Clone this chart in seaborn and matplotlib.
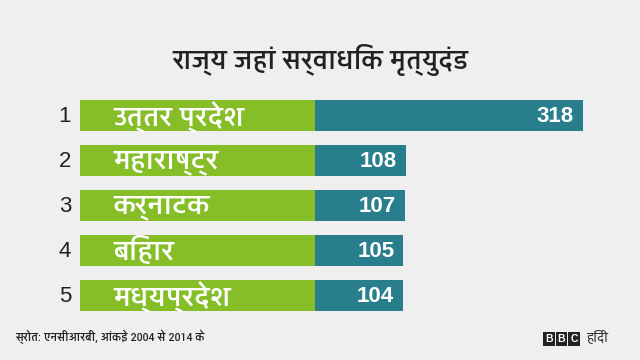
import matplotlib
matplotlib.use("Agg")
import matplotlib.pyplot as plt
import seaborn as sns
import pandas as pd
from matplotlib import font_manager
from matplotlib.patches import Rectangle

# ---- data ----
ranks = ["1", "2", "3", "4", "5"]
states = ["उत्तर प्रदेश", "महाराष्ट्र", "कर्नाटक", "बिहार", "मध्यप्रदेश"]
death_sentences = [318, 108, 107, 105, 104]
title_text = "राज्य जहां सर्वाधिक मृत्युदंड"
source_text = "स्रोत: एनसीआरबी, आंकड़े 2004 से 2014 के"
brand_text = "हिंदी"

# ---- pick a Devanagari font ----
names = {fe.name for fe in font_manager.fontManager.ttflist}
deva_family = None
for cand in ["Yantramanav", "Noto Sans Devanagari", "Hind", "Mukta",
             "Poppins", "Akshar"]:
    if cand in names:
        deva_family = cand
        break
fams = ([deva_family] if deva_family else []) + ["DejaVu Sans"]

sns.set_theme(style="white")
plt.rcParams["font.family"] = fams

BG = "#efefef"
GREEN = "#86be28"
TEAL = "#287e8c"

df = pd.DataFrame({"state": states, "value": death_sentences})

fig = plt.figure(figsize=(6.4, 3.6), dpi=100, facecolor=BG)
ax = fig.add_axes([80 / 640, 42 / 360, 560 / 640, 225 / 360])
ax.set_facecolor(BG)

k = 268 / 318.0           # pixels per unit
green_w = 235 / k          # label box width in data units
ax.set_xlim(-green_w, 560 / k - green_w)

sns.barplot(data=df, y="state", x="value", orient="h", color=TEAL,
            saturation=1, width=0.69, ax=ax, edgecolor="none")
ax.set_ylim(4.5, -0.5)

bar_h = 0.69
for i, (name, v) in enumerate(zip(states, death_sentences)):
    ax.add_patch(Rectangle((-green_w, i - bar_h / 2), green_w, bar_h,
                           facecolor=GREEN, edgecolor="none", zorder=3))
    ax.text(-green_w + 33 / k, i + 0.03, name, color="white", fontsize=21,
            va="center", ha="left", family=fams, fontweight="medium",
            zorder=4)
    ax.text(v - 9 / k, i + 0.03, str(v), color="white", fontsize=16,
            fontweight="bold", va="center", ha="right",
            family="Liberation Sans", zorder=4)
    ax.text(-green_w - 15 / k, i + 0.03, ranks[i], color="#222222",
            fontsize=16, va="center", ha="center",
            family="Liberation Sans", zorder=4)

ax.set_xlabel("")
ax.set_ylabel("")
ax.set_xticks([])
ax.set_yticks([])
for s in ax.spines.values():
    s.set_visible(False)

fig.text(0.5, 1 - 60 / 360, title_text, ha="center", va="center",
         fontsize=20, color="#222222", family=fams, fontweight="medium")
fig.text(15 / 640, 1 - 337 / 360, source_text, ha="left", va="center",
         fontsize=8.5, color="#222222", family=fams, fontweight="medium")

# BBC blocks
for j, ch in enumerate("BBC"):
    fig.text((549 + j * 12.5) / 640, 1 - 339 / 360, ch, ha="center",
             va="center", fontsize=7.5, color="white", fontweight="bold",
             family="Liberation Sans",
             bbox=dict(boxstyle="square,pad=0.18", fc="#222222", ec="none"))
fig.text(586 / 640, 1 - 338 / 360, brand_text, ha="left", va="center",
         fontsize=10, color="#333333", family=fams)

fig.savefig("out.png", dpi=100, facecolor=BG)
